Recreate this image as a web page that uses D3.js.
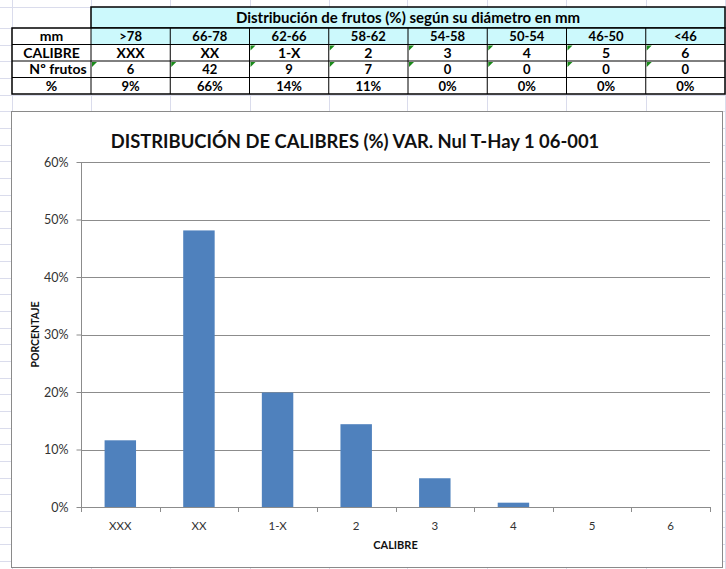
<!DOCTYPE html>
<html>
<head>
<meta charset="utf-8">
<script src="https://cdn.jsdelivr.net/npm/d3@7"></script>
<style>
	body { margin: 0; background: #fff; }
	svg { display: block; }
</style>
</head>
<body>
<div id="container"></div>
<script>
// table data
var diametros = [">78", "66-78", "62-66", "58-62", "54-58", "50-54", "46-50", "<46"];
var calibres = ["XXX", "XX", "1-X", "2", "3", "4", "5", "6"];
var frutos = [6, 42, 9, 7, 0, 0, 0, 0];
var porcentajeTabla = ["9%", "66%", "14%", "11%", "0%", "0%", "0%", "0%"];
var rowLabels = ["mm", "CALIBRE", "Nº frutos", "%"];

// chart data (percent of fruits per calibre)
var porcentajeGrafico = [11.6, 48.1, 19.9, 14.4, 5.0, 0.75, 0, 0];
var yTicks = [0, 10, 20, 30, 40, 50, 60];

(function()
{
	var W = 726, H = 569;
	var svg = d3.select("#container").append("svg").attr("width", W).attr("height", H);
	var font = "Lato, 'Open Sans', sans-serif";

	drawSheetGrid();
	drawTable();
	drawChart();

	// light spreadsheet cell lines behind everything
	function drawSheetGrid()
	{
		var g = svg.append("g").attr("stroke", "#dadcec").attr("stroke-width", 1);
		var cols = [12, 91, 170, 250, 329, 407, 487, 566, 646, 725];
		cols.forEach(function(x)
		{
			g.append("line").attr("x1", x + 0.5).attr("x2", x + 0.5).attr("y1", 0).attr("y2", H);
		});
		for (var y = 28; y < H; y += 16.65)
		{
			g.append("line").attr("x1", 0).attr("x2", W).attr("y1", Math.round(y) + 0.5).attr("y2", Math.round(y) + 0.5);
		}
		g.append("line").attr("x1", 0).attr("x2", W).attr("y1", 7.5).attr("y2", 7.5);
	}

	function drawTable()
	{
		var g = svg.append("g");
		var x0 = 12, labelW = 79;
		var colX = d3.scaleBand().domain(d3.range(diametros.length)).range([91, 725]);
		var rowY = d3.scaleBand().domain(d3.range(rowLabels.length)).range([28, 94]);

		// header band
		g.append("rect").attr("x", 91).attr("y", 7).attr("width", 634).attr("height", 21)
			.attr("fill", "#ccf9fc").attr("stroke", "#000").attr("stroke-width", 1.5);
		g.append("text").attr("x", 408).attr("y", 22.5).attr("text-anchor", "middle")
			.attr("font-family", font).attr("font-weight", "bold").attr("font-size", 15)
			.text("Distribución de frutos (%) según su diámetro en mm");

		// cells
		var rows = [diametros, calibres, frutos, porcentajeTabla];
		g.append("rect").attr("x", x0).attr("y", 28).attr("width", 713).attr("height", 66).attr("fill", "#fff");
		g.append("rect").attr("x", 91).attr("y", rowY(0)).attr("width", 634).attr("height", rowY.bandwidth()).attr("fill", "#ccf9fc");

		rowLabels.forEach(function(lab, r)
		{
			var cy = rowY(r) + rowY.bandwidth() / 2 + 5;
			g.append("text").attr("x", r == 2 ? 58 : x0 + labelW / 2).attr("y", cy).attr("text-anchor", "middle")
				.attr("font-family", font).attr("font-weight", "bold").attr("font-size", 14).text(lab);
			rows[r].forEach(function(v, c)
			{
				g.append("text").attr("x", colX(c) + colX.bandwidth() / 2).attr("y", cy).attr("text-anchor", "middle")
					.attr("font-family", font).attr("font-weight", "bold").attr("font-size", r == 1 ? 14 : 13).text(v);
			});
		});

		// green corner marks (numbers stored as text)
		var marks = [];
		calibres.forEach(function(v, c) { if (c >= 2) marks.push([c, 1]); });
		frutos.forEach(function(v, c) { marks.push([c, 2]); });
		g.selectAll("path.mark").data(marks).enter().append("path")
			.attr("d", function(d)
			{
				var x = colX(d[0]) + 1, y = rowY(d[1]) + 1;
				return "M" + x + "," + y + "h5l-5,5z";
			})
			.attr("fill", "#1a8a1a");

		// grid lines
		var lines = g.append("g").attr("stroke", "#000");
		rowY.domain().slice(1).forEach(function(r)
		{
			lines.append("line").attr("x1", x0).attr("x2", 725).attr("y1", rowY(r)).attr("y2", rowY(r)).attr("stroke-width", 1);
		});
		colX.domain().forEach(function(c)
		{
			lines.append("line").attr("x1", colX(c)).attr("x2", colX(c)).attr("y1", 28).attr("y2", 94).attr("stroke-width", 1);
		});
		g.append("rect").attr("x", x0).attr("y", 28).attr("width", 713).attr("height", 66)
			.attr("fill", "none").attr("stroke", "#000").attr("stroke-width", 1.5);
	}

	function drawChart()
	{
		var g = svg.append("g");
		g.append("rect").attr("x", 11.5).attr("y", 111.5).attr("width", 711).attr("height", 456)
			.attr("fill", "#fff").attr("stroke", "#8a8a8a").attr("stroke-width", 1);

		var left = 81, right = 710, top = 162, bottom = 507;
		var x = d3.scaleBand().domain(calibres).range([left, right]).paddingInner(0.6).paddingOuter(0.3);
		var y = d3.scaleLinear().domain([0, 60]).range([bottom, top]);

		g.append("text").attr("x", 355).attr("y", 148).attr("text-anchor", "middle")
			.attr("font-family", font).attr("font-weight", "bold").attr("font-size", 18.4).attr("fill", "#111")
			.text("DISTRIBUCIÓN DE CALIBRES (%) VAR. Nul T-Hay 1 06-001");

		// horizontal gridlines
		g.append("g").selectAll("line").data(yTicks.slice(1)).enter().append("line")
			.attr("x1", left).attr("x2", right)
			.attr("y1", function(d) { return Math.round(y(d)) + 0.5; })
			.attr("y2", function(d) { return Math.round(y(d)) + 0.5; })
			.attr("stroke", "#8c8c8c");

		// bars
		g.append("g").selectAll("rect").data(porcentajeGrafico).enter().append("rect")
			.attr("x", function(d, i) { return x(calibres[i]); })
			.attr("width", x.bandwidth())
			.attr("y", function(d) { return y(d); })
			.attr("height", function(d) { return bottom - y(d); })
			.attr("fill", "#4f81bd");

		// y axis
		var yAxis = g.append("g").attr("transform", "translate(" + (left + 0.5) + ",0)")
			.call(d3.axisLeft(y).tickValues(yTicks).tickSize(5).tickPadding(8).tickFormat(function(d) { return d + "%"; }));
		yAxis.select(".domain").attr("stroke", "#8c8c8c").attr("d", "M0," + top + "V" + bottom);
		yAxis.selectAll(".tick line").attr("stroke", "#8c8c8c");
		yAxis.selectAll("text").attr("font-family", font).attr("font-size", 12.5).attr("fill", "#333");

		// x axis, ticks at category boundaries
		var bounds = d3.range(calibres.length + 1).map(function(i) { return left + i * (right - left) / calibres.length; });
		var xg = g.append("g");
		xg.append("line").attr("x1", left).attr("x2", right).attr("y1", bottom + 0.5).attr("y2", bottom + 0.5).attr("stroke", "#8c8c8c");
		xg.selectAll("line.t").data(bounds).enter().append("line")
			.attr("x1", function(d) { return Math.round(d) + 0.5; }).attr("x2", function(d) { return Math.round(d) + 0.5; })
			.attr("y1", bottom).attr("y2", bottom + 5).attr("stroke", "#8c8c8c");
		xg.selectAll("text").data(calibres).enter().append("text")
			.attr("x", function(d) { return x(d) + x.bandwidth() / 2; }).attr("y", 530)
			.attr("text-anchor", "middle").attr("font-family", font).attr("font-size", 11.5).attr("fill", "#333")
			.text(function(d) { return d; });

		// axis titles
		g.append("text").attr("x", (left + right) / 2).attr("y", 549).attr("text-anchor", "middle")
			.attr("font-family", font).attr("font-weight", "bold").attr("font-size", 11).attr("fill", "#111").text("CALIBRE");
		g.append("text").attr("transform", "translate(39," + ((top + bottom) / 2) + ") rotate(-90)")
			.attr("text-anchor", "middle").attr("font-family", font).attr("font-weight", "bold").attr("font-size", 10.5)
			.attr("fill", "#111").text("PORCENTAJE");
	}
})();
</script>
</body>
</html>
